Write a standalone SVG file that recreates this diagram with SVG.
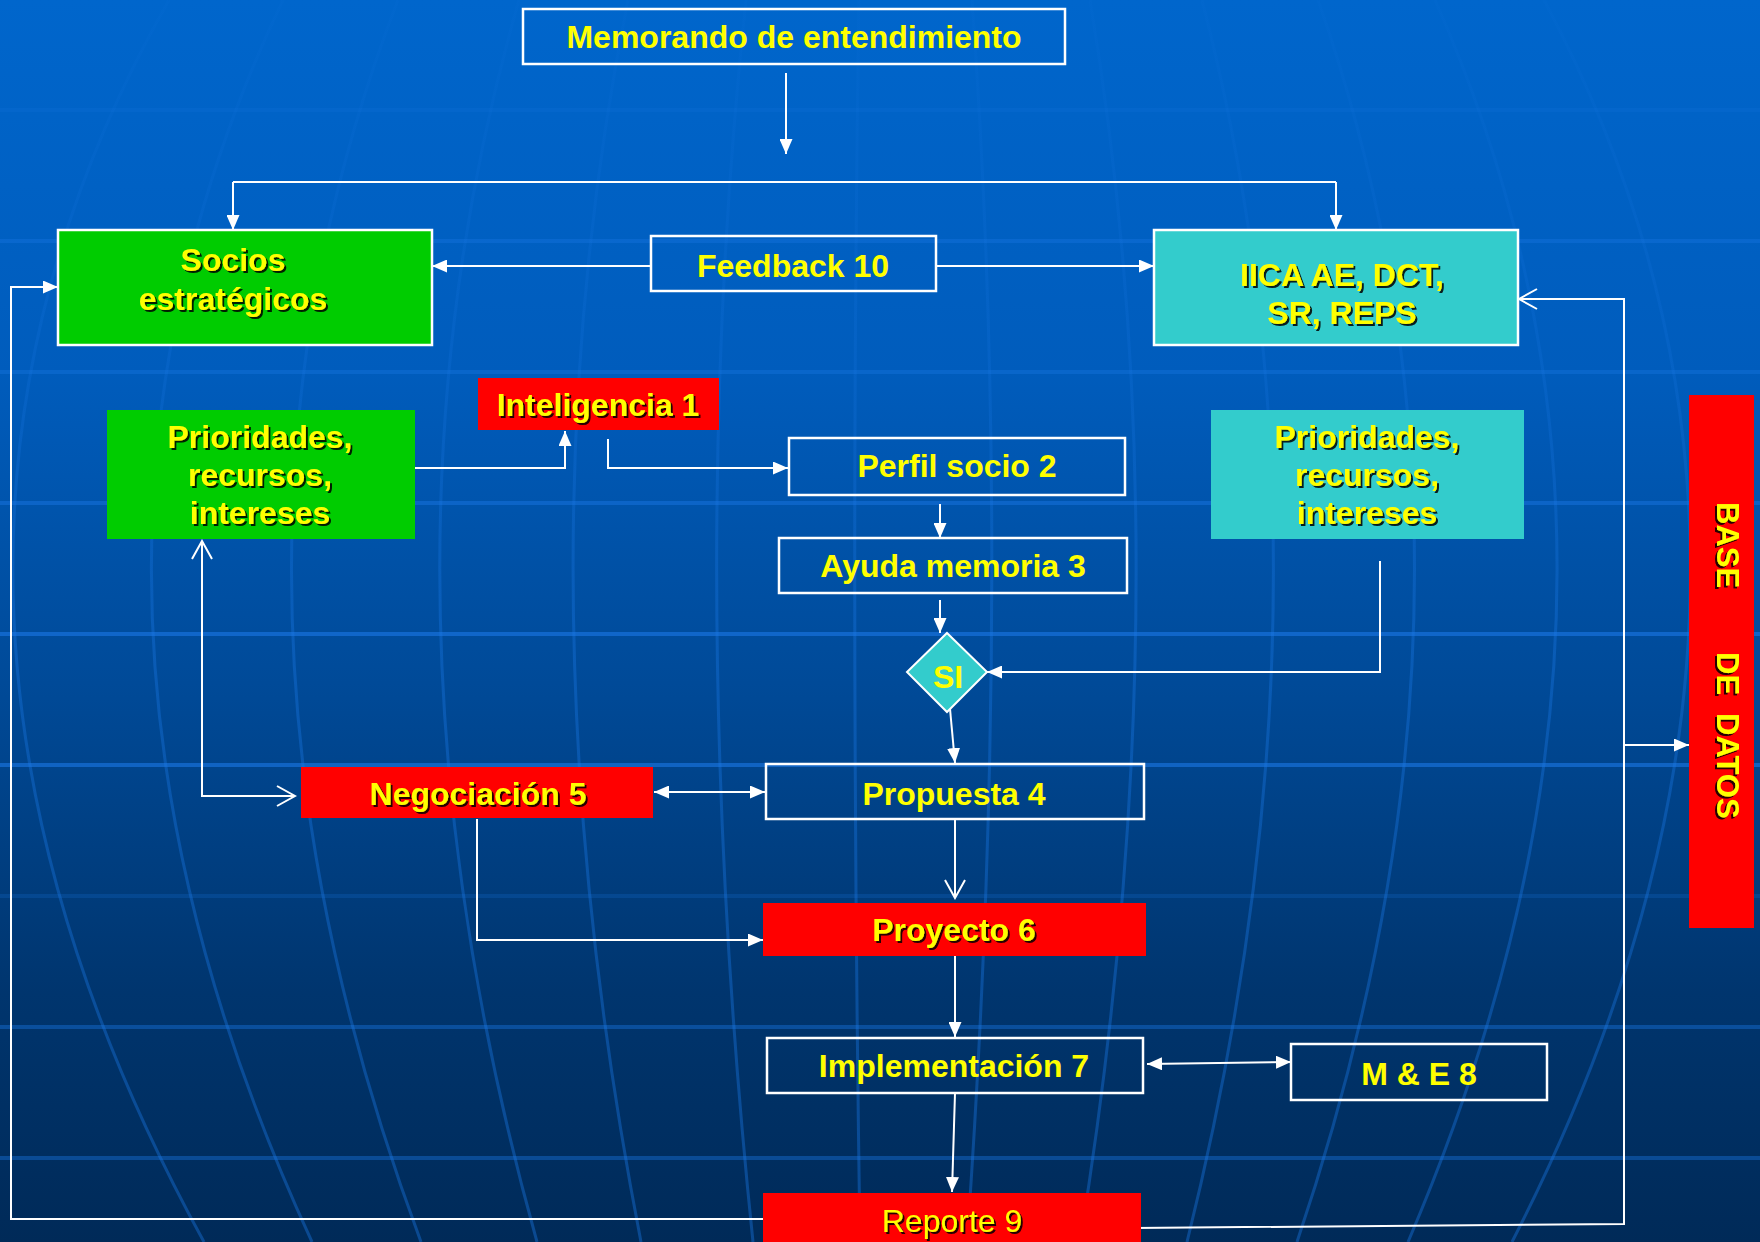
<svg xmlns="http://www.w3.org/2000/svg" width="1760" height="1242" viewBox="0 0 1760 1242">
<style>
.t{font-family:"Liberation Sans",Arial,sans-serif;font-weight:bold;font-size:32px;fill:#FFFF00;text-anchor:middle}
.sh{filter:url(#ts)}
.ob{fill:none;stroke:#fff;stroke-width:2.5}
.c{fill:none;stroke:#fff;stroke-width:2}
.fa{marker-end:url(#ah)}
.grid{fill:none;stroke:#1a78e6;stroke-width:4}
.mer{fill:none;stroke:url(#merg);stroke-width:3}
</style>
<defs>
<linearGradient id="bg" x1="0" y1="0" x2="0" y2="1">
<stop offset="0" stop-color="#0066cc"/>
<stop offset="0.3" stop-color="#005cbc"/>
<stop offset="0.55" stop-color="#004a98"/>
<stop offset="0.8" stop-color="#00356e"/>
<stop offset="1" stop-color="#002a58"/>
</linearGradient>
<linearGradient id="merg" gradientUnits="userSpaceOnUse" x1="0" y1="0" x2="0" y2="1242">
<stop offset="0" stop-color="#1a78e6" stop-opacity="0.05"/>
<stop offset="0.3" stop-color="#1a78e6" stop-opacity="0.2"/>
<stop offset="0.5" stop-color="#1a78e6" stop-opacity="0.35"/>
<stop offset="1" stop-color="#1a78e6" stop-opacity="0.4"/>
</linearGradient>
<filter id="ts" x="-10%" y="-20%" width="120%" height="140%">
<feDropShadow dx="2" dy="2" stdDeviation="0" flood-color="#000" flood-opacity="0.85"/>
</filter>
<marker id="ah" viewBox="0 0 15 13" refX="15" refY="6.5" markerWidth="15" markerHeight="13" orient="auto-start-reverse" markerUnits="userSpaceOnUse">
<path d="M0,0 L15,6.5 L0,13 z" fill="#fff"/>
</marker>
<marker id="av" viewBox="-2 -2 22 24" refX="18" refY="10" markerWidth="22" markerHeight="24" orient="auto-start-reverse" markerUnits="userSpaceOnUse">
<path d="M0,0 L18,10 L0,20" fill="none" stroke="#fff" stroke-width="2"/>
</marker>
</defs>

<g id="background">
<rect x="0" y="0" width="1760" height="1242" fill="url(#bg)"/>
<path class="grid" stroke-opacity="0.15" d="M0,110H1760"/>
<path class="grid" stroke-opacity="0.35" d="M0,241H1760M0,372H1760"/>
<path class="grid" stroke-opacity="0.45" d="M0,503H1760"/>
<path class="grid" stroke-opacity="0.6" d="M0,634H1760M0,765H1760"/>
<path class="grid" stroke-opacity="0.2" d="M0,896H1760"/>
<path class="grid" stroke-opacity="0.4" d="M0,1027H1760M0,1158H1760"/>
<path class="mer" d="M169,0Q-160,579 204,1242M283,0Q6,579 312,1242M398,0Q174,579 421,1242M519,0Q352,579 537,1242M628,0Q512,579 641,1242M746,0Q684,579 753,1242M859,0Q850,579 860,1242M972,0Q1014,579 967,1242M1090,0Q1187,579 1080,1242M1202,0Q1352,579 1187,1242M1318,0Q1521,579 1297,1242M1435,0Q1692,579 1408,1242M1544,0Q1852,579 1512,1242"/>
</g>

<g id="connectors">
<path class="c fa" d="M786,73V154"/>
<path class="c" d="M233,182H1336"/>
<path class="c fa" d="M233,182V230"/>
<path class="c fa" d="M1336,182V230"/>
<path class="c fa" d="M651,266H432"/>
<path class="c fa" d="M936,266H1154"/>
<path class="c fa" d="M410,468H565V431"/>
<path class="c fa" d="M608,439V468H788"/>
<path class="c fa" d="M940,504V538"/>
<path class="c fa" d="M940,600V633"/>
<path class="c fa" d="M1380,561V672H987"/>
<path class="c fa" d="M949,698L955,763"/>
<path class="c" d="M654,792H765" marker-start="url(#ah)" marker-end="url(#ah)"/>
<path class="c" d="M202,541V796H295" marker-start="url(#av)" marker-end="url(#av)"/>
<path class="c" d="M955,819V898" marker-end="url(#av)"/>
<path class="c fa" d="M477,819V940H763"/>
<path class="c fa" d="M955,956V1037"/>
<path class="c" d="M1147,1064L1291,1062" marker-start="url(#ah)" marker-end="url(#ah)"/>
<path class="c fa" d="M955,1093L952,1192"/>
<path class="c fa" d="M763,1219H11V287H58"/>
<path class="c" d="M1134,1228L1624,1224V299H1519" marker-end="url(#av)"/>
<path class="c fa" d="M1624,745H1689"/>
</g>

<g id="memorando">
<rect class="ob" x="523" y="9" width="542" height="55"/>
<text class="t" x="794" y="48">Memorando de entendimiento</text>
</g>

<g id="socios">
<rect x="58" y="230" width="374" height="115" fill="#00cc00" stroke="#fff" stroke-width="2.5"/>
<text class="t sh" x="233" y="271">Socios</text>
<text class="t sh" x="233" y="310">estratégicos</text>
</g>

<g id="feedback">
<rect class="ob" x="651" y="236" width="285" height="55"/>
<text class="t" x="793" y="277">Feedback 10</text>
</g>

<g id="iica">
<rect x="1154" y="230" width="364" height="115" fill="#33cccc" stroke="#fff" stroke-width="2.5"/>
<text class="t sh" x="1342" y="286">IICA AE, DCT,</text>
<text class="t sh" x="1342" y="324">SR, REPS</text>
</g>

<g id="inteligencia">
<rect x="478" y="378" width="241" height="52" fill="#ff0000"/>
<text class="t sh" x="598" y="416">Inteligencia 1</text>
</g>

<g id="prioridades-socios">
<rect x="107" y="410" width="308" height="129" fill="#00cc00"/>
<text class="t sh" x="260" y="448">Prioridades,</text>
<text class="t sh" x="260" y="486">recursos,</text>
<text class="t sh" x="260" y="524">intereses</text>
</g>

<g id="prioridades-iica">
<rect x="1211" y="410" width="313" height="129" fill="#33cccc"/>
<text class="t sh" x="1367" y="448">Prioridades,</text>
<text class="t sh" x="1367" y="486">recursos,</text>
<text class="t sh" x="1367" y="524">intereses</text>
</g>

<g id="perfil">
<rect class="ob" x="789" y="438" width="336" height="57"/>
<text class="t" x="957" y="477">Perfil socio 2</text>
</g>

<g id="ayuda">
<rect class="ob" x="779" y="538" width="348" height="55"/>
<text class="t" x="953" y="577">Ayuda memoria 3</text>
</g>

<g id="si">
<path d="M947,633L987,672L947,712L907,672Z" fill="#33cccc" stroke="#fff" stroke-width="2"/>
<text class="t" x="948" y="688">SI</text>
</g>

<g id="propuesta">
<rect class="ob" x="766" y="764" width="378" height="55"/>
<text class="t" x="954" y="805">Propuesta 4</text>
</g>

<g id="negociacion">
<rect x="301" y="767" width="352" height="51" fill="#ff0000"/>
<text class="t sh" x="478" y="805">Negociación 5</text>
</g>

<g id="proyecto">
<rect x="763" y="903" width="383" height="53" fill="#ff0000"/>
<text class="t sh" x="954" y="941">Proyecto 6</text>
</g>

<g id="implementacion">
<rect class="ob" x="767" y="1038" width="376" height="55"/>
<text class="t" x="954" y="1077">Implementación 7</text>
</g>

<g id="mye">
<rect class="ob" x="1291" y="1044" width="256" height="56"/>
<text class="t" x="1419" y="1085">M &amp; E 8</text>
</g>

<g id="reporte">
<rect x="763" y="1193" width="378" height="52" fill="#ff0000"/>
<text class="t sh" x="952" y="1232" style="font-weight:normal">Reporte 9</text>
</g>

<g id="base-de-datos">
<rect x="1689" y="395" width="65" height="533" fill="#ff0000"/>
<text class="t sh" transform="translate(1717,0) rotate(90)" style="font-size:31px;text-anchor:start"><tspan x="502" y="0">BASE</tspan><tspan x="652" y="0">DE</tspan><tspan x="713" y="0">DATOS</tspan></text>
</g>
</svg>
